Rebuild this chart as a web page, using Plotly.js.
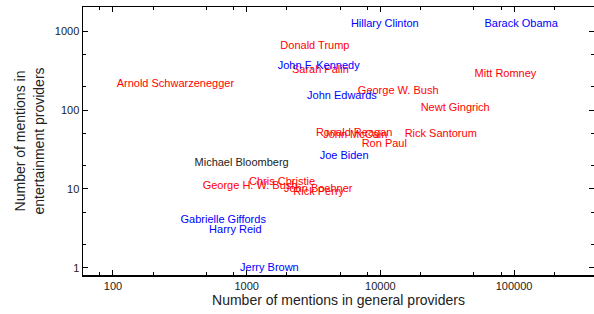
<!DOCTYPE html>
<html>
<head>
<meta charset="utf-8">
<script src="https://cdn.plot.ly/plotly-3.0.1.min.js"></script>
<style>html,body{margin:0;padding:0;background:#fff;}#chart{width:594px;height:314px;}</style>
</head>
<body>
<div id="chart"></div>
<script>
// Data
const names = ["Hillary Clinton","Barack Obama","Donald Trump","John F. Kennedy","Sarah Palin",
  "Arnold Schwarzenegger","Mitt Romney","George W. Bush","John Edwards","Newt Gingrich",
  "Ronald Reagan","John McCain","Rick Santorum","Ron Paul","Joe Biden","Michael Bloomberg",
  "George H. W. Bush","Chris Christie","John Boehner","Rick Perry","Gabrielle Giffords",
  "Harry Reid","Jerry Brown"];
const generalMentions = [10800,113000,3240,3460,3560,
  293,86300,13600,5160,36300,
  6370,6490,28300,10700,5360,917,
  1060,1840,3430,3460,668,
  824,1480];
const entertainmentMentions = [1220,1220,650,355,316,
  214,281,171,151,106,
  50.8,48.0,49.0,37.3,26.0,21.2,
  10.8,12.2,9.85,9.1,4.0,
  2.98,0.985];
const party = ["D","D","R","D","R",
  "R","R","R","D","R",
  "R","R","R","R","D","I",
  "R","R","R","R","D",
  "D","D"];
const partyColors = {D:"#0000ff", R:"#ff0000", I:"#222222"};

const xTickVals = [100,1000,10000,100000];
const xTickText = ["100","1000","10000","100000"];
const xMinorVals = [80,200,500,800,2000,5000,8000,20000,50000,80000,200000];
const yTickVals = [1,10,100,1000];
const yTickText = ["1","10","100","1000"];
const yMinorVals = [2,5,20,50,200,500];

const groups = ["R","D","I"];
const traces = groups.map(g => {
  const idx = names.map((n,i)=>i).filter(i => party[i] === g);
  return {
    type: "scatter",
    mode: "text",
    x: idx.map(i => generalMentions[i]),
    y: idx.map(i => entertainmentMentions[i]),
    text: idx.map(i => names[i]),
    textposition: "middle center",
    textfont: {family: "Liberation Sans, Arial, sans-serif", size: 11, color: partyColors[g]},
    hoverinfo: "none",
    showlegend: false
  };
});

const axisFont = {family: "Liberation Sans, Arial, sans-serif", size: 11, color: "#222"};
const titleFont = {family: "Liberation Sans, Arial, sans-serif", size: 14, color: "#222"};
const layout = {
  width: 594, height: 314,
  margin: {l: 83, r: 0, t: 7, b: 39, pad: 0},
  paper_bgcolor: "#fff", plot_bgcolor: "#fff",
  showlegend: false,
  xaxis: {
    type: "log", range: [1.776, 5.598],
    tickmode: "array", tickvals: xTickVals, ticktext: xTickText,
    ticks: "inside", ticklen: 5, tickwidth: 1, tickcolor: "#000",
    minor: {tickmode: "array", tickvals: xMinorVals, ticks: "inside", ticklen: 3, tickcolor: "#000", showgrid: false},
    showline: true, linecolor: "#000", linewidth: 1.5, mirror: "allticks",
    showgrid: false, zeroline: false,
    tickfont: axisFont,
    title: {text: "Number of mentions in general providers", font: titleFont, standoff: 4}
  },
  yaxis: {
    type: "log", range: [-0.089, 3.304],
    tickmode: "array", tickvals: yTickVals, ticktext: yTickText,
    ticks: "inside", ticklen: 5, tickwidth: 1, tickcolor: "#000",
    minor: {tickmode: "array", tickvals: yMinorVals, ticks: "inside", ticklen: 3, tickcolor: "#000", showgrid: false},
    showline: true, linecolor: "#000", linewidth: 1.5, mirror: "allticks",
    showgrid: false, zeroline: false,
    tickfont: axisFont,
    title: {text: "Number of mentions in<br>entertainment providers", font: titleFont, standoff: 7}
  }
};
Plotly.newPlot("chart", traces, layout, {staticPlot: true, displayModeBar: false});
</script>
</body>
</html>
